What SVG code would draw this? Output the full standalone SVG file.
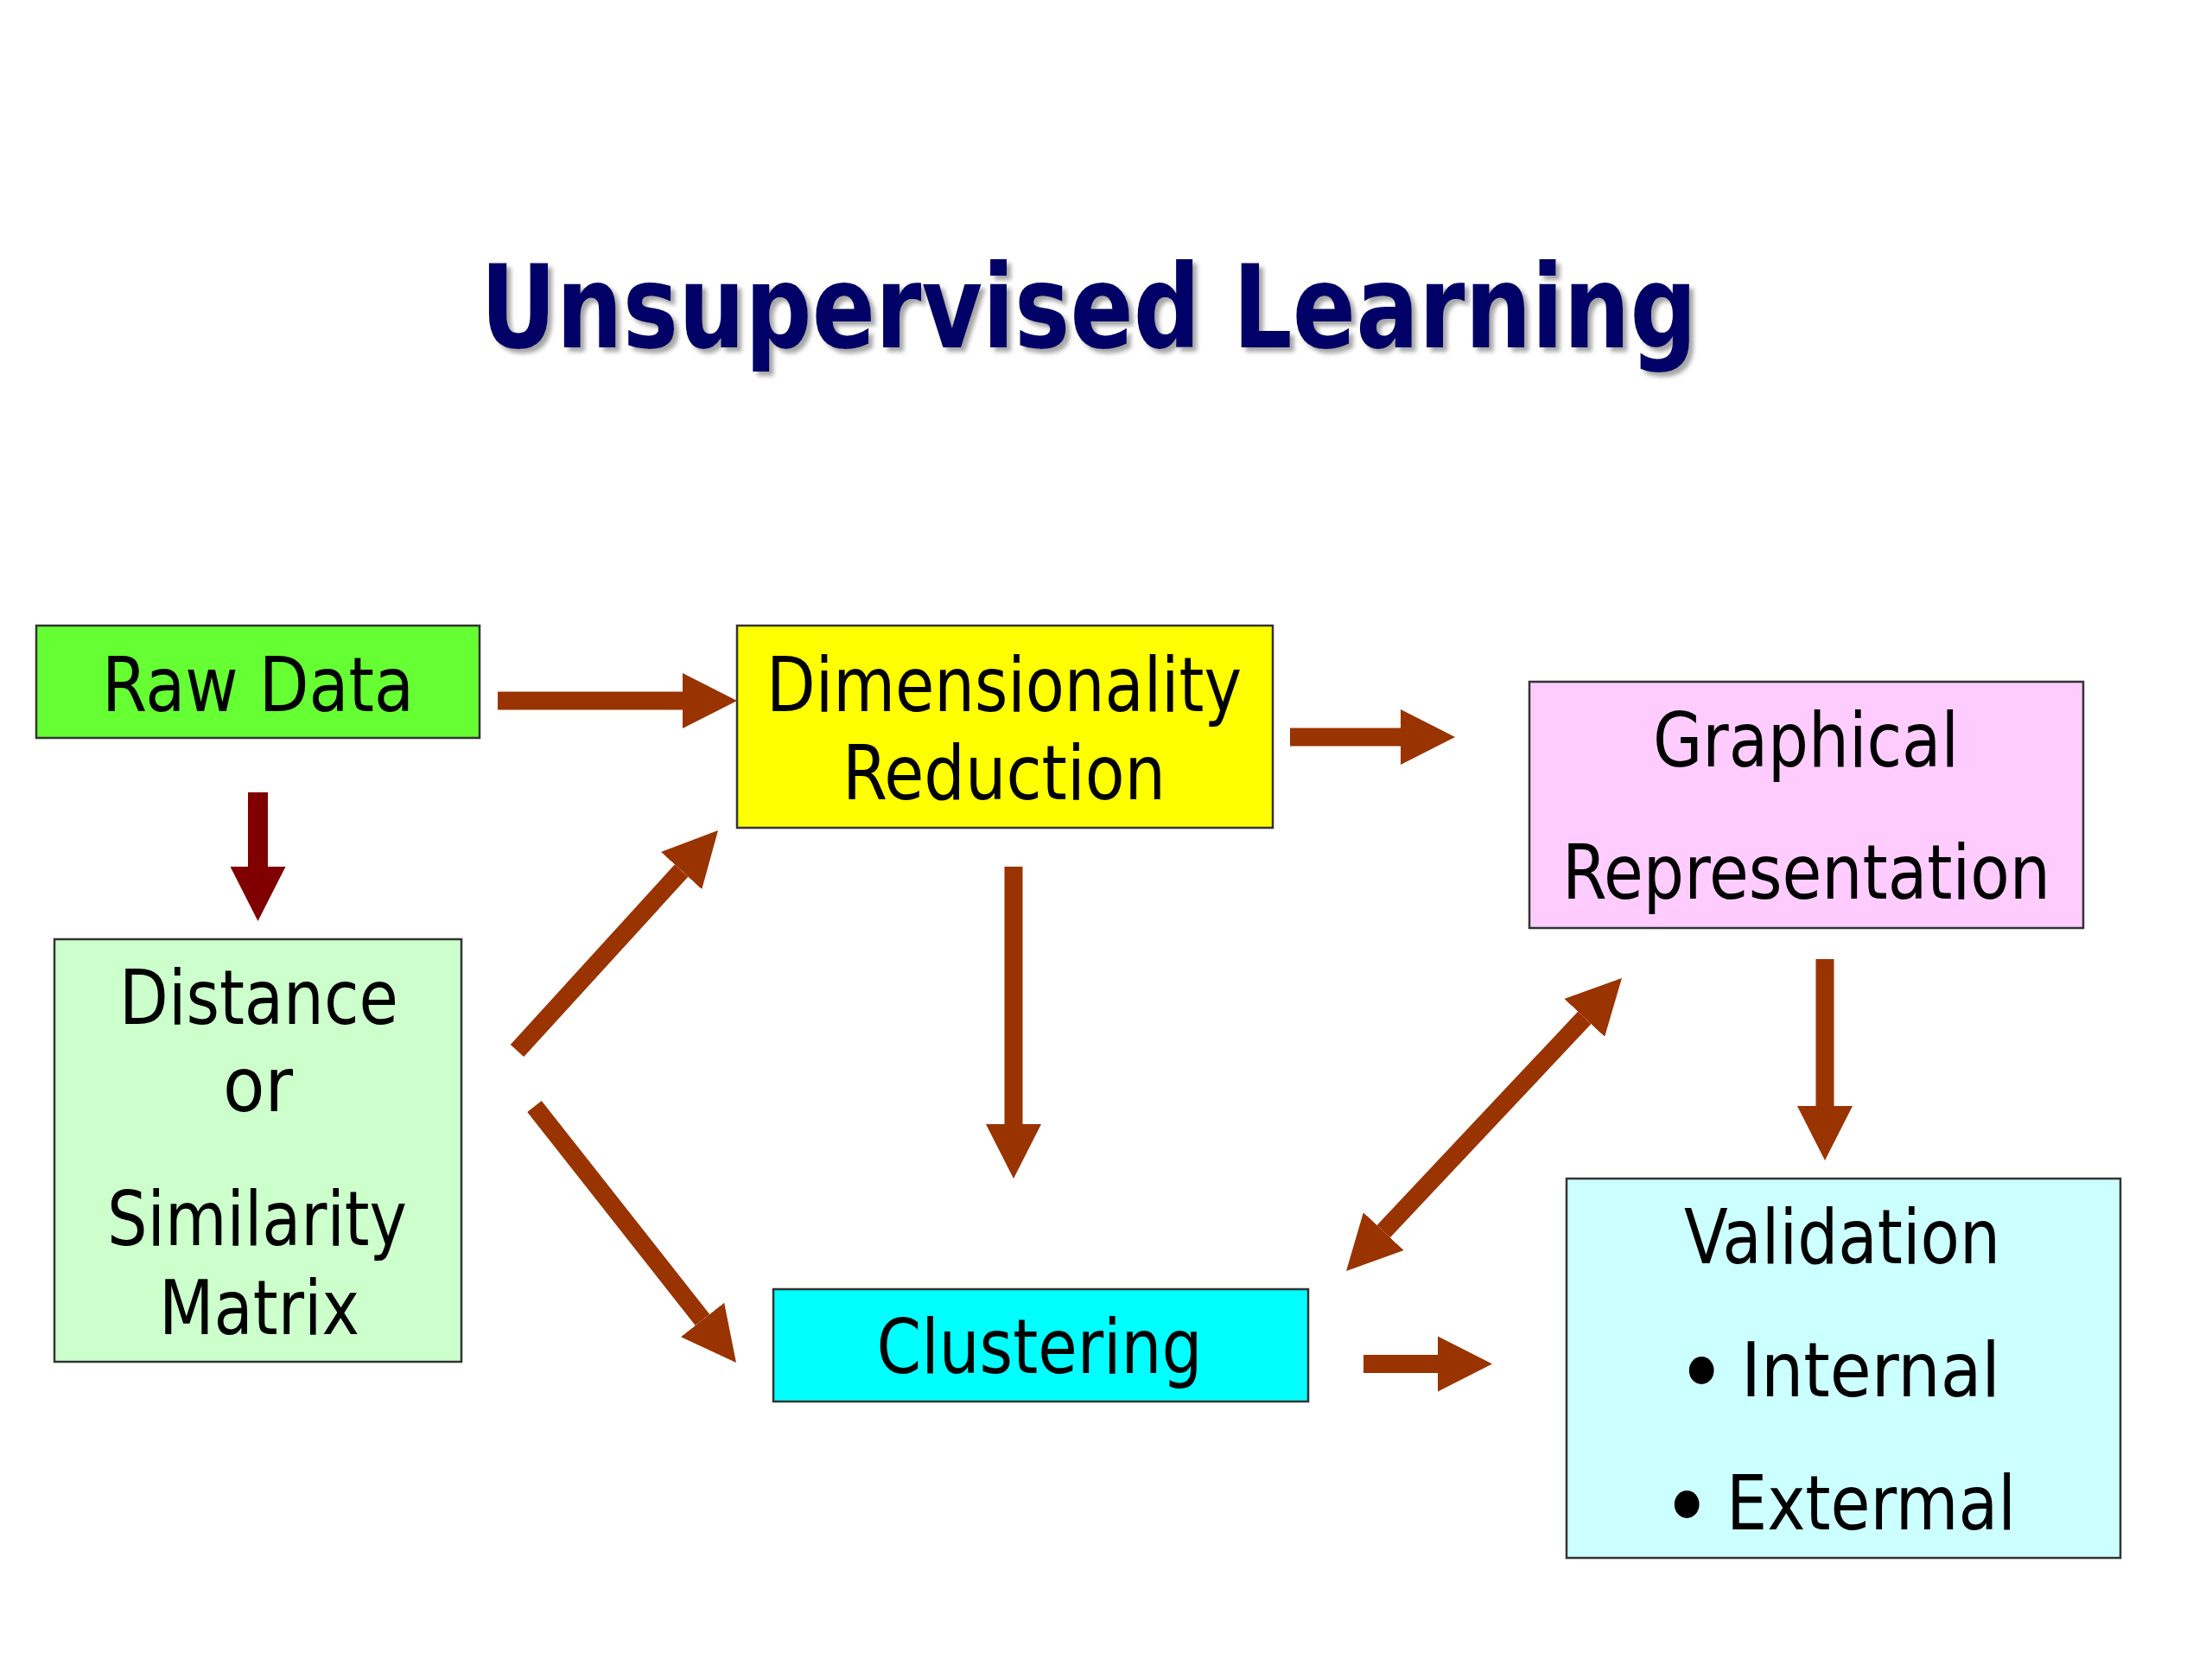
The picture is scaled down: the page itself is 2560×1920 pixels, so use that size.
<svg xmlns="http://www.w3.org/2000/svg" width="2560" height="1920" viewBox="0 0 2560 1920">
  <style>
    .box { stroke: #333333; stroke-width: 2.5; }
    .lbl { font-family: 'DejaVu Sans Condensed', 'DejaVu Sans', sans-serif; font-stretch: condensed; font-size: 87px; fill: #000000; text-anchor: middle; }
    .lbs { font-family: 'DejaVu Sans Condensed', 'DejaVu Sans', sans-serif; font-stretch: condensed; font-size: 87px; fill: #000000; }
    .bul { font-size: 110px; }
    .title { font-family: 'DejaVu Sans Condensed', 'DejaVu Sans', sans-serif; font-stretch: condensed; font-weight: bold; font-size: 133px; fill: #000066; text-anchor: middle; }
    .arr { stroke: #993300; stroke-width: 21; fill: none; stroke-linecap: butt; }
    .arr-red { stroke: #800000; stroke-width: 23; fill: none; stroke-linecap: butt; }
  </style>
  <defs>
    <marker id="head" markerUnits="userSpaceOnUse" viewBox="0 0 64 64" markerWidth="64" markerHeight="64" refX="0" refY="32" orient="auto-start-reverse">
      <path d="M0,0 L63,32 L0,64 Z" fill="#993300"/>
    </marker>
    <marker id="head-red" markerUnits="userSpaceOnUse" viewBox="0 0 64 64" markerWidth="64" markerHeight="64" refX="0" refY="32" orient="auto">
      <path d="M0,0 L63,32 L0,64 Z" fill="#800000"/>
    </marker>
    <filter id="shadow" x="-5%" y="-20%" width="110%" height="140%">
      <feDropShadow dx="5" dy="5" stdDeviation="2.5" flood-color="#888888" flood-opacity="0.75"/>
    </filter>
  </defs>

  <rect width="2560" height="1920" fill="#ffffff"/>

  <text class="title" x="1260" y="402" textLength="1408" lengthAdjust="spacingAndGlyphs" filter="url(#shadow)">Unsupervised Learning</text>

  <g id="connectors">
    <line class="arr" x1="576" y1="811" x2="790" y2="811" marker-end="url(#head)"/>
    <line class="arr-red" x1="298.5" y1="917" x2="298.5" y2="1003" marker-end="url(#head-red)"/>
    <line class="arr" x1="1493" y1="853" x2="1621" y2="853" marker-end="url(#head)"/>
    <line class="arr" x1="1173" y1="1003" x2="1173" y2="1301" marker-end="url(#head)"/>
    <line class="arr" x1="598.5" y1="1216" x2="788.6" y2="1007.6" marker-end="url(#head)"/>
    <line class="arr" x1="618.5" y1="1280.5" x2="813" y2="1527.5" marker-end="url(#head)"/>
    <line class="arr" x1="1601.2" y1="1425.1" x2="1833.8" y2="1177.9" marker-start="url(#head)" marker-end="url(#head)"/>
    <line class="arr" x1="2112" y1="1110" x2="2112" y2="1280" marker-end="url(#head)"/>
    <line class="arr" x1="1578" y1="1578.5" x2="1664" y2="1578.5" marker-end="url(#head)"/>
  </g>

  <g id="raw-data">
    <rect class="box" x="42" y="724" width="513" height="130" fill="#66ff33"/>
    <text class="lbl" x="298.5" y="823" textLength="361" lengthAdjust="spacingAndGlyphs">Raw Data</text>
  </g>

  <g id="dimensionality-reduction">
    <rect class="box" x="853" y="724" width="620" height="234" fill="#ffff00"/>
    <text class="lbl" x="1162" y="823" textLength="550" lengthAdjust="spacingAndGlyphs">Dimensionality</text>
    <text class="lbl" x="1162" y="925" textLength="374" lengthAdjust="spacingAndGlyphs">Reduction</text>
  </g>

  <g id="graphical-representation">
    <rect class="box" x="1770" y="789" width="641" height="285" fill="#ffccff"/>
    <text class="lbl" x="2090" y="887" textLength="354" lengthAdjust="spacingAndGlyphs">Graphical</text>
    <text class="lbl" x="2090.5" y="1040" textLength="565" lengthAdjust="spacingAndGlyphs">Representation</text>
  </g>

  <g id="distance-matrix">
    <rect class="box" x="63" y="1087" width="471" height="489" fill="#ccffcc"/>
    <text class="lbl" x="299.5" y="1185" textLength="323" lengthAdjust="spacingAndGlyphs">Distance</text>
    <text class="lbl" x="298.5" y="1286" textLength="81" lengthAdjust="spacingAndGlyphs">or</text>
    <text class="lbl" x="297.5" y="1441" textLength="347" lengthAdjust="spacingAndGlyphs">Similarity</text>
    <text class="lbl" x="300" y="1544" textLength="232" lengthAdjust="spacingAndGlyphs">Matrix</text>
  </g>

  <g id="clustering">
    <rect class="box" x="895" y="1492" width="619" height="130" fill="#00ffff"/>
    <text class="lbl" x="1203" y="1589" textLength="377" lengthAdjust="spacingAndGlyphs">Clustering</text>
  </g>

  <g id="validation">
    <rect class="box" x="1813" y="1364" width="641" height="439" fill="#ccffff"/>
    <text class="lbl" x="2132" y="1462" textLength="366" lengthAdjust="spacingAndGlyphs">Validation</text>
    <text class="lbs"><tspan class="bul" x="1940" y="1627">•</tspan><tspan x="2015" y="1616" textLength="300" lengthAdjust="spacingAndGlyphs">Internal</tspan></text>
    <text class="lbs"><tspan class="bul" x="1923" y="1782">•</tspan><tspan x="1998" y="1770" textLength="335" lengthAdjust="spacingAndGlyphs">Extermal</tspan></text>
  </g>
</svg>
